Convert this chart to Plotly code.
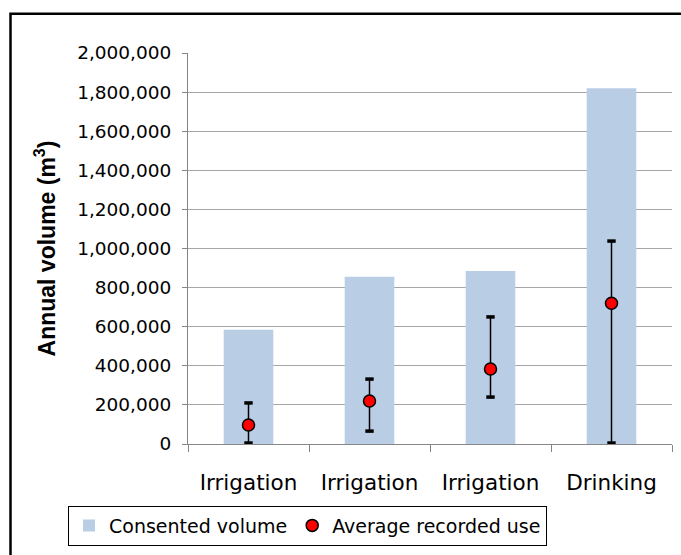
import plotly.graph_objects as go

# Water use by abstraction type
categories = ["Irrigation", "Irrigation", "Irrigation", "Drinking"]
consented_volume = [585000, 855000, 885000, 1820000]
average_use = [97000, 220000, 384000, 720000]
max_use = [210000, 332000, 650000, 1038000]
min_use = [5000, 66000, 240000, 5000]
y_ticks = list(range(0, 2000001, 200000))

positions = list(range(len(categories)))
err_plus = [hi - avg for hi, avg in zip(max_use, average_use)]
err_minus = [avg - lo for lo, avg in zip(min_use, average_use)]

W, H = 681, 555
L, R, T, B = 188, 9, 53, 108
plot_w, plot_h = W - L - R, H - T - B


def px_x(p):
    return (p - L) / plot_w


def px_y(p):
    return (H - B - p) / plot_h


fig = go.Figure()

fig.add_trace(go.Bar(
    x=positions, y=consented_volume, name="Consented volume",
    marker=dict(color="#B9CDE5", line=dict(width=0)), width=0.41,
))

# Error-bar caps drawn as short thick dashes
fig.add_trace(go.Scatter(
    x=positions + positions, y=max_use + min_use, mode="markers", showlegend=False,
    hoverinfo="skip",
    marker=dict(symbol="line-ew", size=6, line=dict(color="black", width=3.5)),
))

fig.add_trace(go.Scatter(
    x=positions, y=average_use, name="Average recorded use", mode="markers",
    marker=dict(color="#FF0000", size=12, line=dict(color="black", width=1.5)),
    error_y=dict(type="data", symmetric=False, array=err_plus, arrayminus=err_minus,
                 color="black", thickness=1.5, width=0),
))

fig.update_layout(
    width=W, height=H,
    margin=dict(l=L, r=R, t=T, b=B, pad=0),
    paper_bgcolor="white", plot_bgcolor="white",
    showlegend=True,
    legend=dict(
        orientation="h", x=px_x(68), y=px_y(509), xanchor="left", yanchor="top",
        bordercolor="black", borderwidth=1, bgcolor="white",
        font=dict(family="DejaVu Sans", size=19, color="black"),
        traceorder="normal", itemwidth=30,
    ),
    shapes=[dict(
        type="rect", xref="paper", yref="paper",
        x0=px_x(10.5), y0=px_y(620), x1=px_x(720), y1=px_y(13.5),
        line=dict(color="black", width=2.5), fillcolor="rgba(0,0,0,0)", layer="below",
    )],
)

fig.update_xaxes(
    range=[-0.5, 3.5], tickmode="array", tickvals=positions, ticktext=categories,
    ticks="", showgrid=False, zeroline=False,
    showline=True, linecolor="#868686", linewidth=1,
    tickfont=dict(family="DejaVu Sans", size=21.5, color="black"),
    ticklabelstandoff=19,
    minor=dict(tickmode="array", tickvals=[-0.5, 0.5, 1.5, 2.5, 3.5],
               ticks="outside", ticklen=7, tickcolor="#868686", showgrid=False),
)

fig.update_yaxes(
    range=[0, 2000000], tickmode="array", tickvals=y_ticks,
    ticktext=[f"{v:,}" for v in y_ticks],
    ticks="outside", ticklen=5, tickcolor="#868686",
    showgrid=True, gridcolor="#A6A6A6", gridwidth=1, zeroline=False,
    showline=True, linecolor="#868686", linewidth=1,
    tickfont=dict(family="DejaVu Sans", size=18.5, color="black"),
    ticklabelstandoff=7,
    title=dict(text="Annual volume (m<sup>3</sup>)", standoff=15,
               font=dict(family="Liberation Sans", size=23, color="black", weight="bold")),
)

fig.write_html("out.html")
